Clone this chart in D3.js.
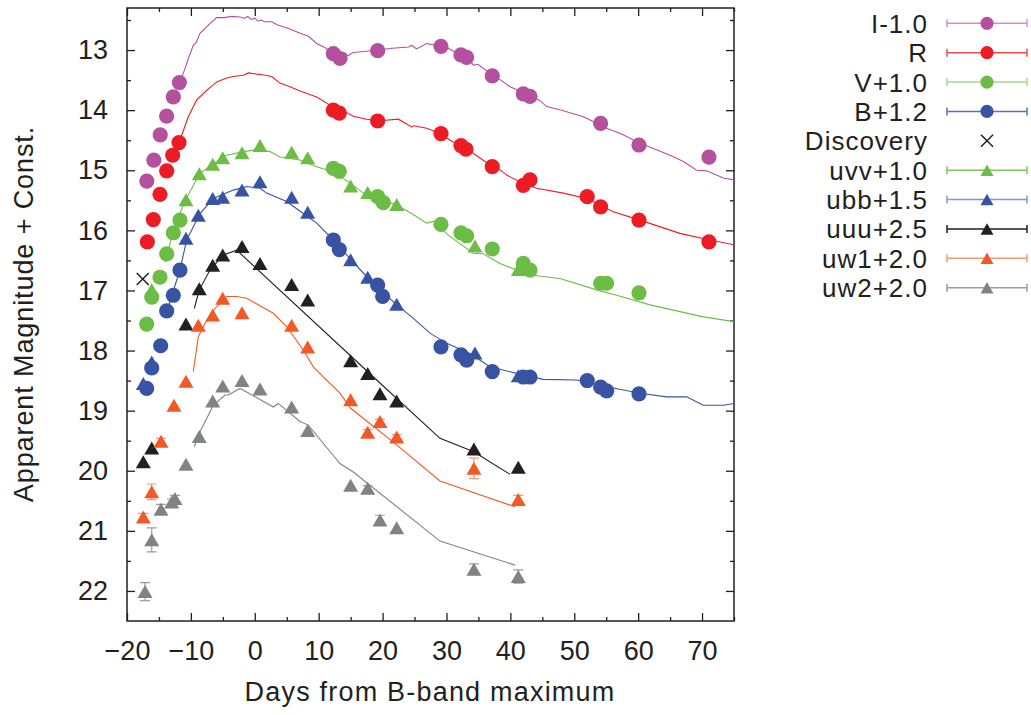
<!DOCTYPE html>
<html><head><meta charset="utf-8">
<script src="https://cdn.jsdelivr.net/npm/d3@7"></script>
<style>
body{margin:0;background:#fff;}
text{font-family:"Liberation Sans",Arial,Helvetica,sans-serif;fill:#231f20;}
</style>
</head><body>
<svg id="c" width="1031" height="715"></svg>
<script>
// ---------- labels / ticks ----------
const seriesLabels = ["I-1.0","R","V+1.0","B+1.2","Discovery","uvv+1.0","ubb+1.5","uuu+2.5","uw1+2.0","uw2+2.0"];
const xTicks = [-20,-10,0,10,20,30,40,50,60,70];
const xMinor = [-15,-5,5,15,25,35,45,55,65,75];
const yTicks = [13,14,15,16,17,18,19,20,21,22];
const yMinor = [12.5,13.5,14.5,15.5,16.5,17.5,18.5,19.5,20.5,21.5,22.5];
const xTitle = "Days from B-band maximum";
const yTitle = "Apparent Magnitude + Const.";

// ---------- photometry points ----------
const I_day = [-16.9,-15.8,-14.8,-13.8,-12.75,-11.8,12.3,13.33,19.23,29.14,32.27,33.16,37.17,42.02,43.07,54.13,60.13,71.08];
const I_mag = [15.18,14.83,14.41,14.10,13.78,13.54,13.06,13.14,13.01,12.94,13.08,13.12,13.43,13.73,13.77,14.22,14.58,14.78];

const R_day = [-16.82,-15.88,-14.84,-13.79,-12.85,-11.86,12.29,13.23,19.23,29.14,32.27,33.05,37.17,42.02,43.07,52.03,54.13,60.13,71.08];
const R_mag = [16.19,15.82,15.40,15.01,14.75,14.54,14.00,14.05,14.18,14.39,14.59,14.65,14.94,15.25,15.16,15.44,15.61,15.83,16.19];

const V_day = [-16.92,-16.13,-14.84,-13.79,-12.75,-11.71,12.29,13.23,19.23,20.11,29.14,32.27,33.16,37.17,42.02,43.07,54.13,55.07,60.13];
const V_mag = [17.56,17.11,16.78,16.39,16.04,15.83,14.97,15.02,15.44,15.54,15.90,16.04,16.09,16.31,16.55,16.66,16.88,16.88,17.04];

const B_day = [-16.92,-16.13,-14.73,-13.79,-12.75,-11.71,12.29,13.23,19.23,20.01,29.14,32.27,33.16,37.17,42.02,43.07,52.03,54.13,55.07,60.13];
const B_mag = [18.63,18.29,17.92,17.34,17.08,16.66,16.16,16.32,16.91,17.10,17.94,18.07,18.16,18.35,18.44,18.44,18.50,18.61,18.67,18.72];
const B_err = [0,0,0,0,0,0,0,0,0,0,0,0,0,0,0,0,0,0.07,0,0];

const disc_day = [-17.54];
const disc_mag = [16.81];

const uvv_day = [-16.13,-10.77,-8.69,-6.59,-5.02,-2.0,0.81,5.77,8.28,15.0,17.67,22.21,34.46,41.24];
const uvv_mag = [16.99,15.49,15.06,14.90,14.79,14.71,14.59,14.70,14.79,15.26,15.37,15.57,16.26,16.65];

const ubb_day = [-17.45,-16.13,-10.77,-8.84,-6.59,-5.02,-2.0,0.81,5.77,8.28,15.0,17.67,22.21,34.46,41.24];
const ubb_mag = [18.55,18.19,16.13,15.75,15.47,15.45,15.33,15.19,15.45,15.70,16.49,16.78,17.23,18.04,18.42];

const uuu_day = [-17.45,-16.13,-10.77,-8.69,-6.59,-5.02,-2.0,0.81,5.77,8.28,15.0,17.67,19.59,22.21,34.30,41.24];
const uuu_mag = [19.85,19.62,17.56,16.97,16.58,16.41,16.27,16.55,16.90,17.16,18.17,18.38,18.72,18.84,19.64,19.94];

const uw1_day = [-17.45,-16.13,-14.68,-12.64,-10.77,-8.84,-6.59,-5.02,-2.0,5.77,8.28,15.0,17.67,19.59,22.21,34.30,41.24];
const uw1_mag = [20.77,20.35,19.51,18.91,18.51,17.58,17.41,17.13,17.37,17.58,17.94,18.82,19.36,19.18,19.44,19.96,20.48];
const uw1_err = [0.06,0.13,0.05,0,0,0,0,0,0,0,0,0,0.05,0.04,0.04,0.17,0.07];

const uw2_day = [-17.18,-16.13,-14.68,-13.0,-12.49,-10.77,-8.69,-6.59,-5.02,-2.0,0.81,5.77,8.28,15.0,17.67,19.59,22.21,34.30,41.24];
const uw2_mag = [22.01,21.15,20.64,20.52,20.46,19.89,19.43,18.84,18.59,18.50,18.64,18.94,19.33,20.24,20.29,20.82,20.95,21.64,21.76];
const uw2_err = [0.15,0.2,0.08,0.05,0.05,0,0,0,0,0,0,0,0,0,0.04,0.08,0,0.09,0.11];

// ---------- template light curves ----------
const lineI_day = [-11.71,-10.9,-10.41,-9.62,-9.2,-8.58,-7.01,-5.96,-4.8,-3.6,-2.32,-1.6,-1.1,-0.6,0.03,0.5,1.0,1.5,2.64,3.5,5.3,7.1,8.4,9.69,11.0,11.77,13.0,14.2,14.5,15.41,17.5,19.23,21.5,24.1,24.55,25.3,26.9,27.8,29.14,30.4,31.6,33.0,33.6,34.19,35.0,36.81,38.5,39.94,41.5,43.07,44.5,45.68,48.0,51.41,52.8,54.54,57.5,60.28,62.0,64.98,67.0,69.15,70.72,73.32,75.04];
const lineI_mag = [13.53,13.30,13.14,12.92,12.88,12.72,12.56,12.46,12.46,12.44,12.45,12.47,12.44,12.49,12.47,12.52,12.50,12.53,12.53,12.58,12.64,12.72,12.77,12.89,12.96,13.03,13.06,13.05,13.10,13.04,13.02,13.00,12.97,12.95,12.92,12.98,12.89,12.91,12.92,12.98,13.05,13.12,13.16,13.25,13.24,13.39,13.50,13.61,13.68,13.80,13.83,13.94,14.00,14.11,14.18,14.28,14.40,14.55,14.62,14.75,14.85,15.00,15.01,15.13,15.16];

const lineR_day = [-13.0,-11.71,-10.41,-9.09,-7.53,-5.96,-4.5,-3.36,-1.8,-1.0,0.3,1.2,2.64,3.94,5.5,7.07,9.69,11.5,12.29,14.0,14.4,15.41,17.5,19.23,22.46,24.55,24.9,26.9,29.14,30.55,31.5,33.16,35.0,36.81,38.0,39.42,42.02,44.11,48.28,51.94,56.1,60.28,66.54,71.24,75.04];
const lineR_mag = [14.78,14.50,14.11,13.83,13.67,13.53,13.47,13.44,13.42,13.38,13.40,13.41,13.44,13.55,13.61,13.68,13.78,13.90,14.00,14.08,14.04,14.10,14.15,14.18,14.15,14.28,14.26,14.30,14.39,14.50,14.55,14.64,14.78,14.91,14.96,15.08,15.22,15.30,15.38,15.47,15.69,15.83,16.05,16.16,16.24];

const lineV_day = [-14.05,-12.49,-10.77,-8.58,-6.49,-4.4,-1.8,0.3,2.38,3.94,7.07,9.69,12.29,14.9,16.98,22.21,24.55,26.9,28.0,30.28,34.19,35.76,38.37,40.99,44.37,47.76,53.5,56.64,61.85,66.03,70.19,75.04];
const lineV_mag = [16.53,15.91,15.48,15.05,14.89,14.75,14.69,14.66,14.69,14.78,14.83,14.94,15.03,15.21,15.38,15.58,15.72,15.88,15.85,16.08,16.38,16.39,16.55,16.66,16.76,16.80,16.99,17.08,17.24,17.34,17.44,17.52];

const lineB_day = [-13.79,-11.71,-10.66,-8.58,-6.49,-3.36,-1.27,0.81,1.86,4.99,7.59,9.69,12.29,14.9,18.03,22.21,24.55,27.42,30.03,33.67,36.81,40.99,45.15,50.38,54.54,60.28,64.46,67.59,70.19,73.32,75.04];
const lineB_mag = [17.35,16.66,16.16,15.72,15.47,15.33,15.27,15.30,15.38,15.52,15.72,15.88,16.16,16.47,16.83,17.24,17.44,17.71,17.88,18.05,18.27,18.38,18.48,18.49,18.59,18.71,18.77,18.77,18.91,18.91,18.88];

const lineUUU_day = [-9.47,-8.69,-7.01,-4.93,-2.83,19.08,28.98,34.19,39.94];
const lineUUU_mag = [17.30,16.99,16.66,16.41,16.33,18.49,19.46,19.68,20.06];

const lineUW1_day = [-9.62,-8.84,-7.79,-6.23,-4.4,-2.83,-1.27,2.9,4.99,7.59,9.15,13.33,15.01,22.21,28.98,40.72];
const lineUW1_mag = [18.35,17.77,17.55,17.30,17.10,17.10,17.13,17.38,17.60,17.99,18.27,18.71,18.96,19.57,20.17,20.60];

const lineUW2_day = [-9.47,-8.58,-6.49,-4.66,-4.15,-2.32,-1.27,2.9,3.68,7.07,8.37,11.77,13.33,15.41,28.98,40.72];
const lineUW2_mag = [19.60,19.35,18.91,18.74,18.74,18.63,18.69,18.94,18.88,19.18,19.24,19.68,19.88,20.02,21.17,21.57];

// ---------- colours ----------
const colors = ["#b5509e","#ec1c24","#6cbd45","#3953a4","#231f20","#6cbd45","#3953a4","#231f20","#f15a24","#808285"];
const legendColors = ["#d490c6","#ef4b4f","#a8d68f","#5d72b6","#231f20","#7fc65c","#8596cf","#231f20","#f59a7c","#9a9c9e"];

// ---------- build ----------
const svg = d3.select("#c");
const W = 1031, H = 715;
svg.append("rect").attr("width",W).attr("height",H).attr("fill","#fff");

const x = d3.scaleLinear().domain([-20,75]).range([127,734]);
const y = d3.scaleLinear().domain([12.3,22.5]).range([8,621]);

const series = [
  {day:I_day, mag:I_mag, shape:"circle"},
  {day:R_day, mag:R_mag, shape:"circle"},
  {day:V_day, mag:V_mag, shape:"circle"},
  {day:B_day, mag:B_mag, err:B_err, shape:"circle"},
  {day:disc_day, mag:disc_mag, shape:"cross"},
  {day:uvv_day, mag:uvv_mag, shape:"tri"},
  {day:ubb_day, mag:ubb_mag, shape:"tri"},
  {day:uuu_day, mag:uuu_mag, shape:"tri"},
  {day:uw1_day, mag:uw1_mag, err:uw1_err, shape:"tri"},
  {day:uw2_day, mag:uw2_mag, err:uw2_err, shape:"tri"}
].map((s,i)=>Object.assign(s,{label:seriesLabels[i], color:colors[i], lcolor:legendColors[i]}));

const models = [
  {day:lineI_day, mag:lineI_mag, color:colors[0]},
  {day:lineR_day, mag:lineR_mag, color:colors[1]},
  {day:lineV_day, mag:lineV_mag, color:colors[2]},
  {day:lineB_day, mag:lineB_mag, color:colors[3]},
  {day:lineUUU_day, mag:lineUUU_mag, color:colors[7]},
  {day:lineUW1_day, mag:lineUW1_mag, color:colors[8]},
  {day:lineUW2_day, mag:lineUW2_mag, color:colors[9]}
];

svg.append("defs").append("clipPath").attr("id","clip")
  .append("rect").attr("x",127).attr("y",8).attr("width",607).attr("height",613);

// axes ticks (inward, mirrored)
function tickAxis(gen, scale, vals, size, transform, fmt){
  const a = gen(scale).tickValues(vals).tickSizeInner(size).tickSizeOuter(0).tickPadding(0);
  a.tickFormat(fmt ? fmt : ()=> "");
  const g = svg.append("g").attr("transform",transform).call(a);
  g.select(".domain").remove();
  g.selectAll(".tick line").attr("stroke","#231f20").attr("stroke-width",1.3);
  return g;
}
tickAxis(d3.axisBottom, x, xTicks, -8, "translate(0,621)");
tickAxis(d3.axisBottom, x, xMinor, -4, "translate(0,621)");
tickAxis(d3.axisTop, x, xTicks, -8, "translate(0,8)");
tickAxis(d3.axisTop, x, xMinor, -4, "translate(0,8)");
tickAxis(d3.axisLeft, y, yTicks, -8, "translate(127,0)");
tickAxis(d3.axisLeft, y, yMinor.filter(v=>v<22.5), -4, "translate(127,0)");
tickAxis(d3.axisRight, y, yTicks, -8, "translate(734,0)");
tickAxis(d3.axisRight, y, yMinor.filter(v=>v<22.5), -4, "translate(734,0)");

// tick labels via axes
const xl = svg.append("g").attr("transform","translate(0,621)")
  .call(d3.axisBottom(x).tickValues(xTicks).tickSize(0).tickPadding(20).tickFormat(d3.format("d")));
xl.select(".domain").remove();
xl.selectAll("text").attr("font-size",27).attr("fill","#231f20").attr("dy","0.71em")
  .style("font-family",'"Liberation Sans",Arial,sans-serif');
const yl = svg.append("g").attr("transform","translate(127,0)")
  .call(d3.axisLeft(y).tickValues(yTicks).tickSize(0).tickPadding(19).tickFormat(d3.format("d")));
yl.select(".domain").remove();
yl.selectAll("text").attr("font-size",27).attr("fill","#231f20")
  .style("font-family",'"Liberation Sans",Arial,sans-serif');

// frame
svg.append("rect").attr("x",127).attr("y",8).attr("width",607).attr("height",613)
  .attr("fill","none").attr("stroke","#231f20").attr("stroke-width",1.5);

// titles
svg.append("text").attr("x",430).attr("y",701).attr("text-anchor","middle")
  .attr("font-size",27).style("letter-spacing","1.2px").text(xTitle);
svg.append("text").attr("transform","translate(33,314) rotate(-90)").attr("text-anchor","middle")
  .attr("font-size",27).style("letter-spacing","0.9px").text(yTitle);

// model lines
const plot = svg.append("g").attr("clip-path","url(#clip)");
const lineGen = d3.line().x(d=>x(d[0])).y(d=>y(d[1]));
models.forEach(m=>{
  plot.append("path").datum(m.day.map((d,i)=>[d,m.mag[i]]))
    .attr("d",lineGen).attr("fill","none").attr("stroke",m.color).attr("stroke-width",1.1);
});

// markers
function triPath(w,h){ return `M0,${-h/2}L${w/2},${h/2}L${-w/2},${h/2}Z`; }
function drawMarker(g, shape, cx, cy, color, big){
  if(shape==="circle"){
    g.append("circle").attr("cx",cx).attr("cy",cy).attr("r",big?7.6:6.6).attr("fill",color);
  } else if(shape==="tri"){
    g.append("path").attr("d",big?triPath(15,13):triPath(13,11.5)).attr("transform",`translate(${cx},${cy})`).attr("fill",color);
  } else {
    const s = 6;
    g.append("path").attr("d",`M${-s},${-s}L${s},${s}M${-s},${s}L${s},${-s}`)
      .attr("transform",`translate(${cx},${cy})`).attr("stroke",color).attr("stroke-width",1.5).attr("fill","none");
  }
}
series.forEach(s=>{
  const g = plot.append("g");
  s.day.forEach((d,i)=>{
    const e = s.err ? s.err[i] : 0;
    if(e>0){
      const y1=y(s.mag[i]-e), y2=y(s.mag[i]+e), cx=x(d);
      g.append("path").attr("d",`M${cx},${y1}V${y2}M${cx-5},${y1}H${cx+5}M${cx-5},${y2}H${cx+5}`)
        .attr("stroke",s.lcolor).attr("stroke-width",1.2).attr("fill","none");
    }
  });
  s.day.forEach((d,i)=> drawMarker(g, s.shape, x(d), y(s.mag[i]), s.color, true));
});

// legend
const lg = svg.append("g");
series.forEach((s,i)=>{
  const cy = 23.3 + i*29.38;
  lg.append("text").attr("x",928).attr("y",cy+9.5).attr("text-anchor","end")
    .attr("font-size",26).style("letter-spacing","1px").text(s.label);
  if(s.shape!=="cross"){
    lg.append("path").attr("d",`M947,${cy}H1027M947,${cy-4}V${cy+4}M1027,${cy-4}V${cy+4}`)
      .attr("stroke",s.lcolor).attr("stroke-width",1.5).attr("fill","none");
  }
  drawMarker(lg, s.shape, 987, cy, s.color, false);
});
</script>
</body></html>
